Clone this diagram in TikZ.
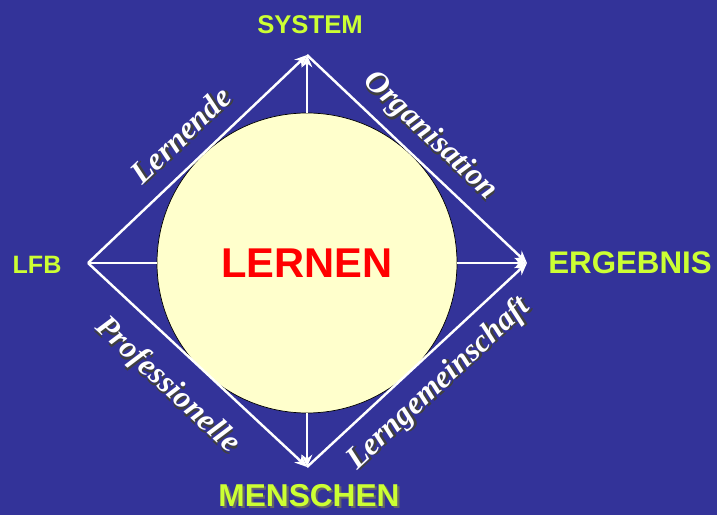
\documentclass[tikz,border=0pt]{standalone}
\usepackage{fontspec}
\setmainfont{Liberation Serif}
\setsansfont{Liberation Sans}
\usetikzlibrary{arrows.meta}
\definecolor{bgblue}{HTML}{333399}
\definecolor{lime}{HTML}{CCFF33}
\definecolor{cream}{HTML}{FFFFCC}
\newcommand{\shadowed}[2][black!75]{\makebox[0pt][l]{\kern1.2pt\raisebox{-1.2pt}{\color{#1}#2}}#2}
\tikzset{
  corner/.style={font=\sffamily\bfseries, text=lime},
  spoke/.style={white, line width=1.4pt},
  edgelabel/.style={font=\fontsize{18}{18}\selectfont\bfseries\itshape, text=white, sloped, inner sep=0pt},
  tip/.style={-{Stealth[length=7pt,width=6pt]}}
}
\begin{document}
\begin{tikzpicture}
  \useasboundingbox (0,0) rectangle (14.34,10.3);
  \fill[bgblue] (0,0) rectangle (14.34,10.3);
  % corners of the diamond
  \coordinate (sys) at (6.14,9.2);
  \coordinate (erg) at (10.54,5.04);
  \coordinate (men) at (6.14,0.96);
  \coordinate (lfb) at (1.76,5.04);
  % circle in the middle
  \node[circle, draw=black, fill=cream, minimum size=6cm, inner sep=0pt,
        font=\sffamily\bfseries\fontsize{23.7}{24}\selectfont, text=red] (lernen) at (6.14,5.04) {LERNEN};
  % spokes
  \draw[spoke, tip] (lernen.north) -- (sys);
  \draw[spoke, tip] (lernen.east) -- (erg);
  \draw[spoke, tip] (lernen.south) -- (men);
  \draw[spoke] (lernen.west) -- (lfb);
  % edges with labels
  \draw[spoke, tip] (lfb) -- node[edgelabel, above=16pt, anchor=center, pos=0.515] (lernende) {\shadowed{Lernende}} (sys);
  \draw[spoke, tip] (sys) -- node[edgelabel, above=14pt, anchor=center, pos=0.48] (organisation) {\shadowed{Organisation}} (erg);
  \draw[spoke, tip] (lfb) -- node[edgelabel, below=21pt, anchor=center, pos=0.473] (prof) {\shadowed{Professionelle}} (men);
  \draw[spoke, tip] (men) -- node[edgelabel, below=17pt, anchor=center, pos=0.511] (lerngem) {\shadowed{Lerngemeinschaft}} (erg);
  % corner labels
  \node[corner, font=\sffamily\bfseries\fontsize{14.6}{15}\selectfont] (systemlabel) at (6.2,9.8) {SYSTEM};
  \node[corner, font=\sffamily\bfseries\fontsize{14.3}{15}\selectfont] (lfblabel) at (0.74,5.0) {LFB};
  \node[corner, font=\sffamily\bfseries\fontsize{17.8}{18}\selectfont] (erglabel) at (12.6,5.04) {ERGEBNIS};
  \node[corner, font=\sffamily\bfseries\fontsize{18}{18}\selectfont] (menlabel) at (6.18,0.36) {\shadowed[black!60]{MENSCHEN}};
\end{tikzpicture}
\end{document}
